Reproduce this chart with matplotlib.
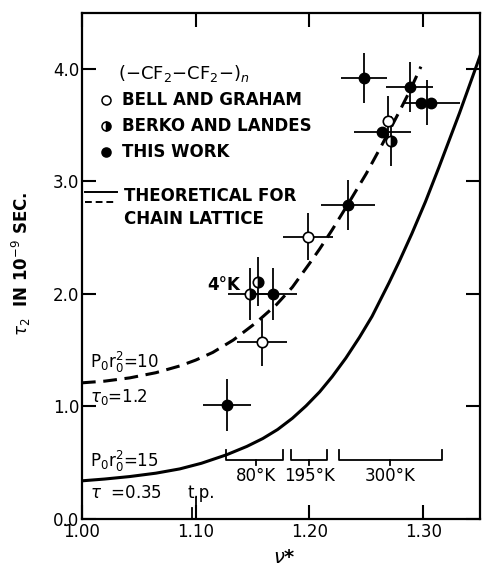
import matplotlib
matplotlib.use("Agg")
import matplotlib.pyplot as plt

# ---- data ------------------------------------------------------------
# Bell and Graham (open circles)
bg_v = [1.199, 1.158, 1.269]
bg_tau = [2.51, 1.57, 3.54]
bg_verr = [0.022, 0.022, 0.0]
bg_terr = [0.21, 0.21, 0.22]

# Berko and Landes (half filled)
bl_v = [1.148, 1.155, 1.272]
bl_tau = [2.00, 2.11, 3.36]
bl_verr = [0.020, 0.0, 0.0]
bl_terr = [0.23, 0.22, 0.22]

# this work (filled)
tw_v = [1.1275, 1.168, 1.234, 1.248, 1.264, 1.288, 1.298, 1.307]
tw_tau = [1.01, 2.00, 2.79, 3.92, 3.44, 3.84, 3.70, 3.70]
tw_verr = [0.021, 0.021, 0.024, 0.020, 0.025, 0.021, 0.0, 0.0]
tw_terr = [0.23, 0.23, 0.22, 0.22, 0.0, 0.22, 0.0, 0.0]

# shared error bar of the overlapping pair near 1.30
pair_v = [1.303]
pair_tau = [3.70]
pair_verr_lo = [0.021]
pair_verr_hi = [0.029]
pair_terr = [0.20]

# theoretical curves for the chain lattice
dash_v = [1.00, 1.02, 1.042, 1.065, 1.086, 1.10, 1.115, 1.133, 1.153,
          1.171, 1.185, 1.200, 1.209, 1.220, 1.234, 1.250, 1.264, 1.280,
          1.288, 1.298]
dash_tau = [1.21, 1.225, 1.254, 1.30, 1.36, 1.412, 1.48, 1.59, 1.744,
            1.905, 2.06, 2.27, 2.40, 2.57, 2.80, 3.07, 3.33, 3.64,
            3.80, 4.02]
solid_v = [1.00, 1.02, 1.042, 1.065, 1.086, 1.105, 1.127, 1.145, 1.159,
           1.172, 1.185, 1.197, 1.209, 1.220, 1.232, 1.244, 1.255, 1.270,
           1.279, 1.290, 1.302, 1.314, 1.332, 1.348, 1.36]
solid_tau = [0.339, 0.355, 0.377, 0.407, 0.445, 0.495, 0.570, 0.645, 0.715,
             0.795, 0.895, 1.005, 1.130, 1.265, 1.430, 1.615, 1.800, 2.10,
             2.29, 2.535, 2.82, 3.13, 3.61, 4.06, 4.40]

# temperature ranges (brackets)
temp_labels = ["80°K", "195°K", "300°K"]
temp_lo = [1.127, 1.184, 1.226]
temp_hi = [1.1766, 1.2155, 1.3164]
temp_mid = [1.153, 1.200, 1.271]

xticks = [1.00, 1.10, 1.20, 1.30]
xticklabels = ["1.00", "1.10", "1.20", "1.30"]
yticks = [0.0, 1.0, 2.0, 3.0, 4.0]
yticklabels = ["0.0", "1.0", "2.0", "3.0", "4.0"]

plt.rcParams["font.family"] = ["DejaVu Sans"]
plt.rcParams["mathtext.fontset"] = "dejavusans"

fig = plt.figure(figsize=(4.82, 5.67), dpi=100)
ax = fig.add_axes([0.170, 0.0847, 0.826, 0.893])

ax.set_xlim(1.00, 1.35)
ax.set_ylim(0.0, 4.5)

for s in ax.spines.values():
    s.set_linewidth(1.6)

ax.set_xticks(xticks)
ax.set_xticklabels(xticklabels)
ax.set_yticks(yticks)
ax.set_yticklabels(yticklabels)
ax.tick_params(direction="in", length=10, width=1.5, top=True, right=True,
               labelsize=12, pad=2)
ax.tick_params(axis="x", pad=3)

# curves
ax.plot(solid_v, solid_tau, color="black", lw=2.2, solid_joinstyle="round")
ax.plot(dash_v, dash_tau, color="black", lw=2.2, dashes=(4.5, 2.5))

ebkw = dict(ecolor="black", elinewidth=1.3, capsize=0, linestyle="none")

ax.errorbar(bg_v, bg_tau, xerr=bg_verr, yerr=bg_terr, marker="o", ms=7.5,
            mfc="white", mec="black", mew=1.2, **ebkw)
ax.errorbar(bl_v, bl_tau, xerr=bl_verr, yerr=bl_terr, marker="o", ms=7.5,
            fillstyle="right", mfc="black", mfcalt="white", mec="black",
            mew=1.2, **ebkw)
ax.errorbar(tw_v, tw_tau, xerr=tw_verr, yerr=tw_terr, marker="o", ms=7.5,
            mfc="black", mec="black", **ebkw)
ax.errorbar(pair_v, pair_tau, xerr=[pair_verr_lo, pair_verr_hi],
            yerr=pair_terr, marker="none", **ebkw)

# temperature brackets
for lab, lo, hi, mid in zip(temp_labels, temp_lo, temp_hi, temp_mid):
    ax.plot([lo, lo, hi, hi], [0.61, 0.52, 0.52, 0.61], color="black", lw=1.3)
    ax.plot([mid, mid], [0.52, 0.48], color="black", lw=1.3)
    ax.text(mid, 0.38, lab, ha="center", va="center", fontsize=12)

# triple point marks
ax.plot([1.0965, 1.0965], [0.0, 0.10], color="black", lw=1.3)
ax.plot([1.1005, 1.1005], [0.0, 0.19], color="black", lw=1.3)
ax.text(1.105, 0.23, "t.p.", ha="center", va="center", fontsize=12)

ax.text(1.139, 2.08, "4°K", ha="right", va="center", fontsize=12,
        fontweight="bold")

# curve labels
ax.text(1.007, 1.39, r"P$_0$r$_0^2$=10", ha="left", va="center", fontsize=12)
ax.text(1.007, 1.08, r"$\tau_0$=1.2", ha="left", va="center", fontsize=12)
ax.text(1.007, 0.51, r"P$_0$r$_0^2$=15", ha="left", va="center", fontsize=12)
ax.text(1.007, 0.23, r"$\tau$  =0.35", ha="left", va="center", fontsize=12)

# legend block
ax.text(0.090, 0.880, r"(−CF$_2$−CF$_2$−)$_n$", transform=ax.transAxes,
        ha="left", va="center", fontsize=13)
leg_rows = [0.828, 0.777, 0.725]
leg_names = ["BELL AND GRAHAM", "BERKO AND LANDES", "THIS WORK"]
leg_style = [dict(mfc="white", mec="black"),
             dict(fillstyle="right", mfc="black", mfcalt="white", mec="black"),
             dict(mfc="black", mec="black")]
for yy, name, st in zip(leg_rows, leg_names, leg_style):
    ax.plot([0.060], [yy], marker="o", ms=6.5, mew=1.1, transform=ax.transAxes,
            clip_on=False, **st)
    ax.text(0.100, yy, name, transform=ax.transAxes, ha="left", va="center",
            fontsize=12, fontweight="bold")

ax.plot([0.007, 0.088], [0.646, 0.646], color="black", lw=1.4,
        transform=ax.transAxes, clip_on=False)
ax.plot([0.007, 0.088], [0.626, 0.626], color="black", lw=1.4,
        dashes=(3.5, 2), transform=ax.transAxes, clip_on=False)
ax.text(0.105, 0.637, "THEORETICAL FOR", transform=ax.transAxes, ha="left",
        va="center", fontsize=12, fontweight="bold")
ax.text(0.105, 0.592, "CHAIN LATTICE", transform=ax.transAxes, ha="left",
        va="center", fontsize=12, fontweight="bold")

fig.text(0.045, 0.535, r"$\tau_2$  IN 10$^{-9}$ SEC.", rotation=90,
         ha="center", va="center", fontsize=12, fontweight="bold")
fig.text(0.59, 0.0, r"$\nu$*", ha="center", va="bottom", fontsize=14,
         fontweight="bold")

fig.savefig("out.png", dpi=100)
